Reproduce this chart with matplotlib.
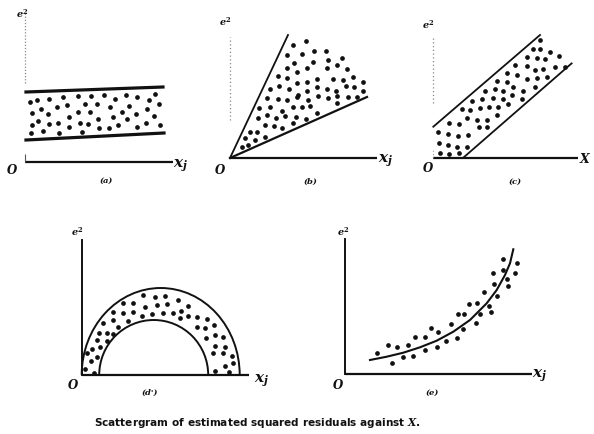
import matplotlib
matplotlib.use('Agg')
import matplotlib.pyplot as plt
from matplotlib.patches import Arc

# ---------------- data (panel units = pixels from each panel's origin) -------------
# (a) constant-variance band
a_x = [5, 12, 24, 38, 53, 66, 79, 90, 101, 112, 124, 130,
       16, 32, 42, 60, 72, 85, 97, 104, 122, 134,
       7, 23, 44, 53, 65, 73, 88, 102, 111, 129,
       13, 7, 24, 33, 44, 55, 63, 74, 84, 93, 112, 121, 135,
       6, 18, 34, 57]
a_y = [60, 62, 63, 65, 66, 66, 67, 63, 67, 65, 62, 68,
       53, 55, 57, 58, 58, 55, 50, 56, 53, 58,
       49, 48, 45, 50, 50, 43, 45, 43, 48, 46,
       41, 37, 38, 39, 35, 39, 38, 34, 34, 37, 35, 39, 37,
       29, 31, 29, 30]
a_upper_x, a_upper_y = [1, 138], [70, 75]
a_lower_x, a_lower_y = [1, 139], [22, 29]

# (b) fan widening with X
b_x = [62.7, 76, 57.3, 71.7, 84, 96, 64, 82.7, 97.7, 111.7, 56.7, 66.7, 76.7, 96.7,
       106.7, 116.7, 48.3, 57.3, 67.3, 77.3, 87.3, 103.3, 112.7, 122.7, 132.7, 40, 49,
       59.3, 68.3, 77.3, 87.3, 96.7, 106, 115.7, 124.3, 133.3, 36.7, 48.3, 56.7, 67.3,
       78.3, 88.3, 98.3, 106.7, 118.3, 126.7, 29.3, 40, 51.7, 62.7, 71.7, 80, 28.3,
       36.7, 46, 55, 66, 76, 86.7, 106.7, 20, 27.3, 35, 44, 51.7, 63.3, 15, 25, 35,
       11.7, 18.3]
b_y = [113, 117, 103, 104, 107.3, 107.3, 95.3, 96.3, 98, 99.7, 89.7, 86.3, 89.7, 89.7,
       93, 88.7, 82, 79.7, 74.7, 76.3, 78.7, 78.7, 78, 80.7, 76.3, 68.7, 72,
       68.7, 63, 67.3, 70.7, 68.7, 67.3, 72, 70.7, 67.3, 59.7, 58.7, 58, 61.3,
       58, 62, 59.7, 62, 60.7, 61.3, 49.7, 51.3, 47, 51.3, 51.3, 52, 39.7,
       43, 39.7, 42, 41.3, 38.7, 44.7, 54.7, 26.3, 26.3, 33, 32, 29.7, 34.7, 19.7, 18, 21.3,
       11.3, 13]
b_upper_x, b_upper_y = [0, 58], [0, 123]
b_lower_x, b_lower_y = [0, 137], [0, 61]

# (c) parallel band rising with X
c_x = [106.7, 100, 106.7, 116.7, 93.3, 103.3, 111.7, 126, 81.7, 73.3, 93.3, 101.7,
       110, 121.7, 131.7, 63.4, 73.4, 83.4, 93.4, 104, 113.4, 51.7, 61.7, 70, 80, 90,
       101.7, 38.4, 48.4, 59.4, 69.4, 78.4, 88.4, 28.4, 36.7, 46.7, 56, 65, 75, 16, 26,
       33.4, 43.4, 53.4, 63.4, 5, 15, 25, 35, 46, 54, 6, 15, 23.4, 33.4, 6.7, 16, 26]
c_y = [117.7, 108.4, 108.4, 106, 100.4, 99.4, 98.4, 101.7, 92.7, 85, 91.7, 87.7,
       88.4, 91, 91, 77, 76, 82.7, 78.4, 79.4, 80.4, 67, 68.4, 67, 71, 67,
       71, 57, 58.4, 59.4, 58.4, 62.7, 58.4, 48.4, 47.7, 49.4, 50.4, 50.4, 53.7, 35, 33.7,
       39.4, 37.7, 37.7, 42.7, 26, 23.7, 21.7, 22.7, 30.4, 30.4, 15, 12.7, 11, 11, 5, 3.7, 4.4]
c_upper_x, c_upper_y = [0, 106.7], [31, 122.7]
c_lower_x, c_lower_y = [30, 138.3], [0, 94.3]

# (d) half-ring
d_x = [61, 73.3, 83.3, 41.6, 51, 63.3, 75.6, 85.6, 96.6, 31.6, 41.6, 51, 60, 70, 81.6,
       91.6, 99, 106.6, 21.6, 31.6, 46.6, 98.3, 106.6, 115.6, 125, 17.6, 25, 36.6, 115,
       123.3, 132.3, 15, 25.6, 31.6, 124.3, 133.3, 141.6, 10, 18.3, 133.3, 143.3, 5, 9,
       15.6, 131.6, 141.6, 150, 3.3, 12.3, 133.3, 143.3, 147.6, 151.6]
d_y = [80, 77.7, 79, 72.3, 72.3, 68.3, 70, 71, 75, 63.3, 62.3, 63.3, 59, 61, 61.7,
       61.7, 64.3, 69, 52.3, 55, 54.3, 56.7, 59, 57.7, 55.7, 42.3, 42.3, 48.3, 47.7,
       46.7, 50, 35, 34.3, 41, 36.7, 40, 38.3, 25.7, 27.7, 29, 28.3, 21.7, 14.3,
       17.7, 22.3, 22.3, 19, 5.7, 2.3, 4.3, 9, 3.3, 11.7]
d_outer = dict(cx=79, w=158, h=174)
d_inner = dict(cx=72, w=109, h=110)

# (e) rising curve
e_x = [32.3, 43.3, 46.7, 52.3, 58.3, 63.3, 67.7, 70, 80, 80, 85.7, 92.3, 93.3, 101,
       105.7, 112.3, 113.3, 117.7, 119, 124.3, 131, 131.7, 135, 139, 144.3, 145.7,
       147.7, 149, 151.7, 157.7, 158.3, 162.3, 163.3, 171.7, 170.3]
e_y = [20.7, 29, 10.7, 27.3, 16.7, 29, 18, 36.7, 36.7, 24, 45.7, 26.7, 42.3, 33.3,
       50, 35.7, 60, 44.7, 60, 70, 50.7, 71.3, 60, 82.3, 68, 62.3,
       100.7, 90, 78, 114.7, 104, 94.7, 88, 111.3, 101.3]
e_curve_x = [25, 41.7, 58.3, 75, 91.7, 108.3, 125, 141.7, 151.7, 160, 165, 168.3]
e_curve_y = [14, 17.3, 21.3, 26.7, 33.3, 42.3, 54, 70.7, 84, 99, 110.7, 124.7]

panel_labels = ['(a)', '(b)', '(c)', "(d')", '(e)']
caption = r'Scattergram of estimated squared residuals against $X$.'

# ---------------- drawing ---------------------------------------------------------
W, H = 594, 434
plt.rcParams['mathtext.fontset'] = 'custom'
plt.rcParams['mathtext.it'] = 'DejaVu Serif:italic:bold'
plt.rcParams['mathtext.rm'] = 'DejaVu Serif:bold'

fig = plt.figure(figsize=(W / 100, H / 100), dpi=100)
fig.patch.set_facecolor('white')
INK = '#111111'
DOT = dict(ls='none', marker='o', ms=3.4, color=INK, mew=0)


def panel(ox, oy, x0, x1, y0, y1):
    ax = fig.add_axes([(ox + x0) / W, (H - oy + y0) / H, (x1 - x0) / W, (y1 - y0) / H])
    ax.set_xlim(x0, x1)
    ax.set_ylim(y0, y1)
    ax.axis('off')
    return ax


def ptext(x, y, s, size=9, **kw):
    fig.text(x / W, 1 - y / H, s, ha='center', va='center', fontsize=size,
             color=INK, **kw)


def xaxis(ax, length, lw=1.6):
    ax.plot([0, length], [0, 0], color=INK, lw=lw, solid_capstyle='butt')


# (a)
ax = panel(25, 162, -10, 160, -5, 160)
xaxis(ax, 148)
ax.vlines(0, 79, 150, color='#888888', lw=0.9, linestyles=(0, (1, 1.5)))
ax.vlines(0, 0, 8, color='#555555', lw=0.8)
ax.plot(a_upper_x, a_upper_y, color=INK, lw=2.3)
ax.plot(a_lower_x, a_lower_y, color=INK, lw=2.3)
ax.plot(a_x, a_y, **DOT)

# (b)
ax = panel(230, 158, -10, 160, -5, 160)
xaxis(ax, 147)
ax.vlines(0, 38, 121, color='#888888', lw=0.9, linestyles=(0, (1, 2)))
ax.plot(b_upper_x, b_upper_y, color=INK, lw=1.3)
ax.plot(b_lower_x, b_lower_y, color=INK, lw=1.6)
ax.plot(b_x, b_y, **DOT)

# (c)
ax = panel(433.3, 157.7, -10, 160, -5, 160)
xaxis(ax, 145)
ax.vlines(0, 55, 121, color='#888888', lw=0.9, linestyles=(0, (1, 2)))
ax.vlines(0, 0, 10, color='#999999', lw=0.8, linestyles=(0, (1, 2)))
ax.plot(c_upper_x, c_upper_y, color=INK, lw=1.3)
ax.plot(c_lower_x, c_lower_y, color=INK, lw=1.3)
ax.plot(c_x, c_y, **DOT)

# (d)
ax = panel(81.7, 375, -10, 180, -5, 150)
xaxis(ax, 167)
ax.plot([0, 0], [0, 135], color=INK, lw=1.4)
for p in (d_outer, d_inner):
    ax.add_patch(Arc((p['cx'], 0), p['w'], p['h'], theta1=0, theta2=180,
                     color=INK, lw=1.4))
ax.plot(d_x, d_y, **DOT)

# (e)
ax = panel(345, 374, -10, 200, -5, 150)
xaxis(ax, 187)
ax.plot([0, 0], [0, 135], color=INK, lw=1.4)
ax.plot(e_curve_x, e_curve_y, color=INK, lw=1.5)
ax.plot(e_x, e_y, **DOT)

# labels
for (x, y) in [(22, 14), (225, 22), (428, 25), (77, 232), (343, 232)]:
    ptext(x, y, r'$e^2$', size=7)
for (x, y) in [(12, 170), (220, 170), (428, 168), (73, 385), (338, 385)]:
    ptext(x, y, r'$O$', size=8.5)
for (x, y) in [(181, 166), (386, 161), (262, 381), (540, 376)]:
    ptext(x, y, r'$x_j$', size=11)
ptext(585, 159, r'$X$', size=9)
for lab, (x, y) in zip(panel_labels, [(106, 181), (310, 182), (515, 182), (150, 393), (432, 393)]):
    ptext(x, y, lab, size=6, weight='bold', style='italic', family='DejaVu Serif')

ptext(257, 423, caption, size=7.6, weight='bold', family='DejaVu Sans')

fig.savefig('out.png', dpi=100, facecolor='white')
